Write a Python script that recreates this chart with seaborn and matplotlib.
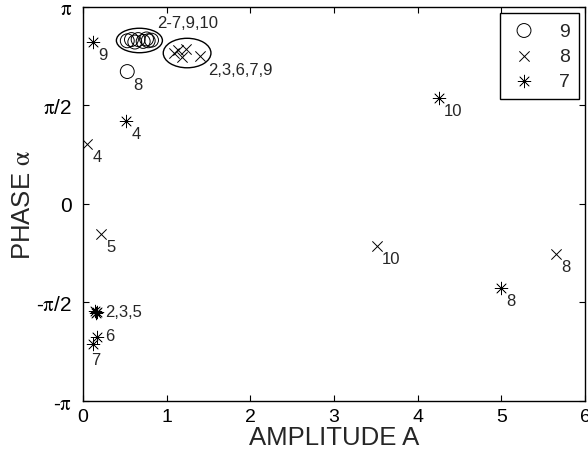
import numpy as np
import pandas as pd
import matplotlib
matplotlib.use("Agg")
import matplotlib.pyplot as plt
from matplotlib.patches import Ellipse
import seaborn as sns

# ---- data ----
# series "9" (circles)
amp9 = [0.53, 0.58, 0.62, 0.66, 0.72, 0.76, 0.78, 0.82, 0.53]
pha9 = [2.60, 2.62, 2.58, 2.62, 2.59, 2.63, 2.60, 2.61, 2.11]
lab9 = ["", "", "", "", "", "", "", "", "8"]
cluster9 = 8          # first 8 points form the labelled cluster
cluster9_label = "2-7,9,10"

# series "8" (crosses)
amp8 = [1.09, 1.14, 1.18, 1.23, 1.40, 0.05, 0.22, 3.51, 5.65]
pha8 = [2.40, 2.45, 2.34, 2.47, 2.35, 0.96, -0.48, -0.67, -0.80]
lab8 = ["", "", "", "", "", "4", "5", "10", "8"]
cluster8 = 5
cluster8_label = "2,3,6,7,9"

# series "7" (asterisks)
amp7 = [0.12, 0.51, 4.25, 4.99, 0.15, 0.16, 0.17, 0.17, 0.12]
pha7 = [2.58, 1.32, 1.69, -1.34, -1.70, -1.74, -1.72, -2.12, -2.23]
lab7 = ["9", "4", "10", "8", "", "", "2,3,5", "6", "7"]

series_names = ["9", "8", "7"]
xticks = [0, 1, 2, 3, 4, 5, 6]
yticks = [-np.pi, -np.pi / 2, 0, np.pi / 2, np.pi]
yticklabels = [r"-$\mathrm{\pi}$", r"-$\mathrm{\pi}$/2", "0", r"$\mathrm{\pi}$/2", r"$\mathrm{\pi}$"]

sns.set_style("ticks")
plt.rcParams["font.family"] = ["Liberation Sans", "DejaVu Sans"]
plt.rcParams["mathtext.fontset"] = "stix"

fig = plt.figure(figsize=(5.88, 4.60), dpi=100)
ax = fig.add_axes([0.141, 0.126, 0.854, 0.857])

df9 = pd.DataFrame({"A": amp9, "P": pha9})
df8 = pd.DataFrame({"A": amp8, "P": pha8})
df7 = pd.DataFrame({"A": amp7, "P": pha7})

sns.scatterplot(data=df9, x="A", y="P", ax=ax, marker="o", s=100,
                facecolors="none", edgecolor="black", linewidth=0.7,
                label=series_names[0])
sns.scatterplot(data=df8, x="A", y="P", ax=ax, marker="x", s=55,
                color="black", linewidth=0.7, label=series_names[1])
sns.scatterplot(data=df7, x="A", y="P", ax=ax, marker=(8, 2, 0), s=85,
                color="black", linewidth=0.5, label=series_names[2])

# point labels
def label_points(xs, ys, labs, special=None):
    for x, y, t in zip(xs, ys, labs):
        if not t:
            continue
        off = (4, -9)
        if special and t in special:
            off = special[t]
        ax.annotate(t, (x, y), xytext=off, textcoords="offset points",
                    fontsize=12, ha="left", va="center")

label_points(amp9, pha9, lab9)
label_points(amp8, pha8, lab8)
label_points(amp7, pha7, lab7, special={"2,3,5": (6, 0), "6": (6, 1), "7": (-1, -11)})

# cluster ellipses
def cluster_ellipse(xs, ys, n, text, textoff):
    cx = (min(xs[:n]) + max(xs[:n])) / 2
    cy = (min(ys[:n]) + max(ys[:n])) / 2
    w = (max(xs[:n]) - min(xs[:n])) + 0.26
    h = (max(ys[:n]) - min(ys[:n])) + 0.34
    ax.add_patch(Ellipse((cx, cy), w, h, fill=False, edgecolor="black", linewidth=1.0))
    ax.annotate(text, (cx + w / 2, cy), xytext=textoff, textcoords="offset points",
                fontsize=12, ha="left", va="center")

cluster_ellipse(amp9, pha9, cluster9, cluster9_label, (-4, 13))
cluster_ellipse(amp8, pha8, cluster8, cluster8_label, (-2, -12))

ax.set_xlim(0, 6)
ax.set_ylim(-np.pi, np.pi)
ax.set_xticks(xticks)
ax.set_yticks(yticks)
ax.set_yticklabels(yticklabels)
ax.tick_params(direction="in", top=True, right=True, length=4, width=0.8,
               labelsize=14, colors="black")
ax.tick_params(axis="x", pad=5)
ax.tick_params(axis="y", pad=8, labelsize=15)
for sp in ax.spines.values():
    sp.set_visible(True)
    sp.set_linewidth(1.0)
    sp.set_color("black")

ax.set_xlabel("AMPLITUDE A", fontsize=18.5, labelpad=0)
ax.set_ylabel(r"PHASE $\mathrm{\alpha}$", fontsize=18.5, labelpad=1)

leg = ax.legend(loc="upper right", fontsize=14, frameon=True, fancybox=False,
                edgecolor="black", framealpha=1, borderaxespad=0.33,
                handletextpad=1.0, labelspacing=0.4, borderpad=0.45,
                handlelength=1.6, markerfirst=True)
leg.get_frame().set_linewidth(1.0)

fig.savefig("out.png", dpi=100)
